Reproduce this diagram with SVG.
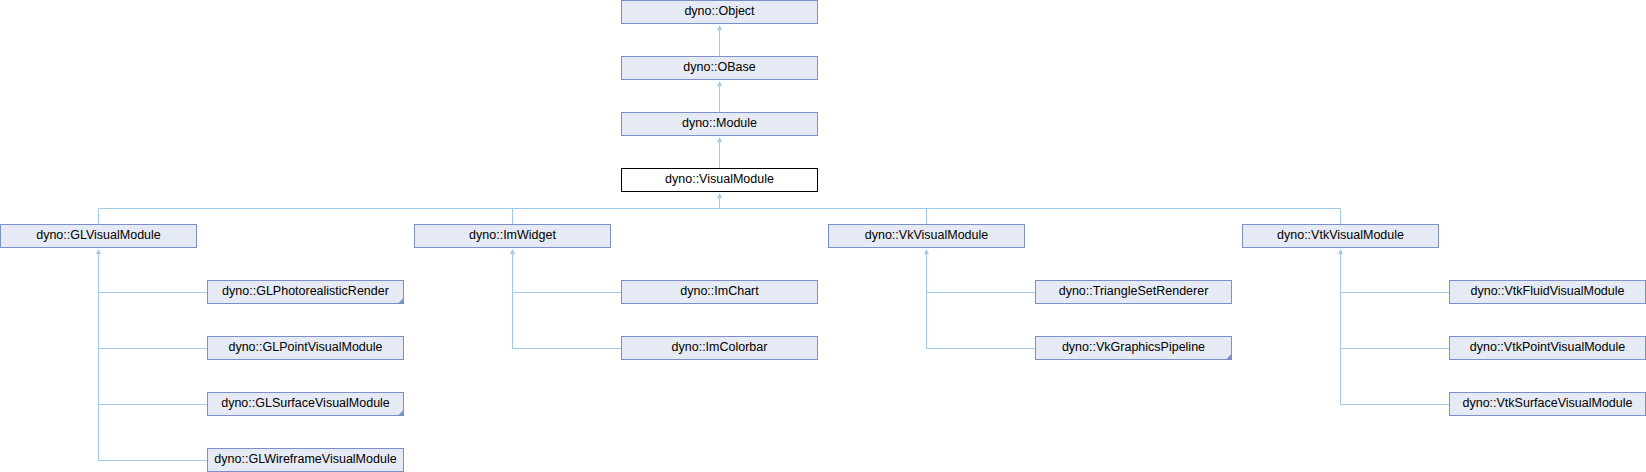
<svg xmlns="http://www.w3.org/2000/svg" width="1646" height="472" viewBox="0 0 1646 472">
<style>
.n rect{fill:#e6eaf4;stroke:#7d8fc8;stroke-width:1}
.n.cur rect{fill:#ffffff;stroke:#000000}
.n text{font-family:"Liberation Sans",Arial,sans-serif;font-size:12.5px;fill:#000;text-anchor:middle}
.n polygon{fill:#7d8fc8}
.e path{fill:none;stroke:#9ecbe9;stroke-width:1}
.e polygon{fill:#9ecbe9}
</style>
<rect width="1646" height="472" fill="#ffffff"/>
<g class="e" id="connectors">
<path d="M719.5 29 V56.5"/><polygon points="719.5,25 717,30 722,30"/>
<path d="M719.5 85 V112.5"/><polygon points="719.5,81 717,86 722,86"/>
<path d="M719.5 141 V168.5"/><polygon points="719.5,137 717,142 722,142"/>
<path d="M719.5 197 V208.5 M98.5 208.5 H1340.5 M98.5 208.5 V224.5 M512.5 208.5 V224.5 M926.5 208.5 V224.5 M1340.5 208.5 V224.5"/><polygon points="719.5,193 717,198 722,198"/>
<path d="M98.5 253 V460.5 M98.5 292.5 H207.5 M98.5 348.5 H207.5 M98.5 404.5 H207.5 M98.5 460.5 H207.5"/><polygon points="98.5,249 96,254 101,254"/>
<path d="M512.5 253 V348.5 M512.5 292.5 H621.5 M512.5 348.5 H621.5"/><polygon points="512.5,249 510,254 515,254"/>
<path d="M926.5 253 V348.5 M926.5 292.5 H1035.5 M926.5 348.5 H1035.5"/><polygon points="926.5,249 924,254 929,254"/>
<path d="M1340.5 253 V404.5 M1340.5 292.5 H1449.5 M1340.5 348.5 H1449.5 M1340.5 404.5 H1449.5"/><polygon points="1340.5,249 1338,254 1343,254"/>
</g>
<g class="n" id="Object"><rect x="621.5" y="0.5" width="196" height="23"/><text x="719.5" y="15">dyno::Object</text></g>
<g class="n" id="OBase"><rect x="621.5" y="56.5" width="196" height="23"/><text x="719.5" y="71">dyno::OBase</text></g>
<g class="n" id="Module"><rect x="621.5" y="112.5" width="196" height="23"/><text x="719.5" y="127">dyno::Module</text></g>
<g class="n cur" id="VisualModule"><rect x="621.5" y="168.5" width="196" height="23"/><text x="719.5" y="183">dyno::VisualModule</text></g>
<g class="n" id="GLVisualModule"><rect x="0.5" y="224.5" width="196" height="23"/><text x="98.5" y="239">dyno::GLVisualModule</text></g>
<g class="n" id="ImWidget"><rect x="414.5" y="224.5" width="196" height="23"/><text x="512.5" y="239">dyno::ImWidget</text></g>
<g class="n" id="VkVisualModule"><rect x="828.5" y="224.5" width="196" height="23"/><text x="926.5" y="239">dyno::VkVisualModule</text></g>
<g class="n" id="VtkVisualModule"><rect x="1242.5" y="224.5" width="196" height="23"/><text x="1340.5" y="239">dyno::VtkVisualModule</text></g>
<g class="n" id="GLPhotorealisticRender"><rect x="207.5" y="280.5" width="196" height="23"/><text x="305.5" y="295">dyno::GLPhotorealisticRender</text><polygon points="403.5,298 403.5,303.5 398,303.5"/></g>
<g class="n" id="GLPointVisualModule"><rect x="207.5" y="336.5" width="196" height="23"/><text x="305.5" y="351">dyno::GLPointVisualModule</text></g>
<g class="n" id="GLSurfaceVisualModule"><rect x="207.5" y="392.5" width="196" height="23"/><text x="305.5" y="407">dyno::GLSurfaceVisualModule</text><polygon points="403.5,410 403.5,415.5 398,415.5"/></g>
<g class="n" id="GLWireframeVisualModule"><rect x="207.5" y="448.5" width="196" height="23"/><text x="305.5" y="463">dyno::GLWireframeVisualModule</text></g>
<g class="n" id="ImChart"><rect x="621.5" y="280.5" width="196" height="23"/><text x="719.5" y="295">dyno::ImChart</text></g>
<g class="n" id="ImColorbar"><rect x="621.5" y="336.5" width="196" height="23"/><text x="719.5" y="351">dyno::ImColorbar</text></g>
<g class="n" id="TriangleSetRenderer"><rect x="1035.5" y="280.5" width="196" height="23"/><text x="1133.5" y="295">dyno::TriangleSetRenderer</text></g>
<g class="n" id="VkGraphicsPipeline"><rect x="1035.5" y="336.5" width="196" height="23"/><text x="1133.5" y="351">dyno::VkGraphicsPipeline</text><polygon points="1231.5,354 1231.5,359.5 1226,359.5"/></g>
<g class="n" id="VtkFluidVisualModule"><rect x="1449.5" y="280.5" width="196" height="23"/><text x="1547.5" y="295">dyno::VtkFluidVisualModule</text></g>
<g class="n" id="VtkPointVisualModule"><rect x="1449.5" y="336.5" width="196" height="23"/><text x="1547.5" y="351">dyno::VtkPointVisualModule</text></g>
<g class="n" id="VtkSurfaceVisualModule"><rect x="1449.5" y="392.5" width="196" height="23"/><text x="1547.5" y="407">dyno::VtkSurfaceVisualModule</text></g>
</svg>
